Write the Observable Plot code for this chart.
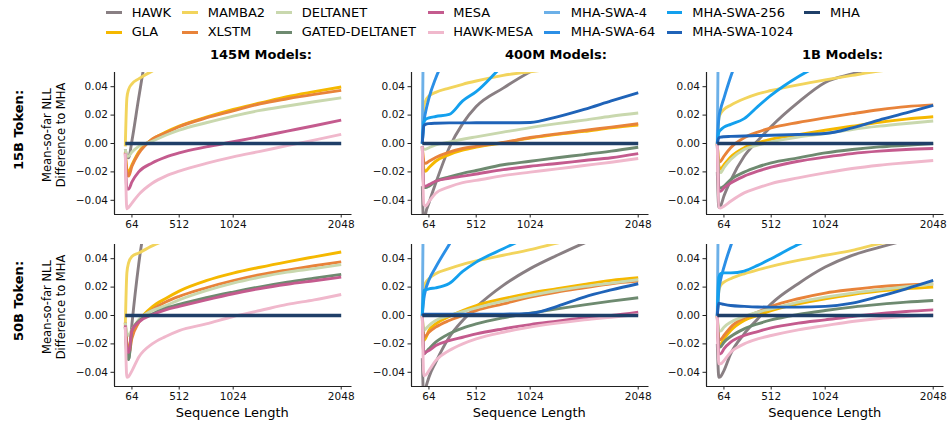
<!DOCTYPE html>
<html><head><meta charset="utf-8">
<script src="https://cdn.jsdelivr.net/npm/d3@7"></script>
<script src="https://cdn.jsdelivr.net/npm/@observablehq/plot@0.6"></script>
<style>
body{margin:0;background:#fff;}
#fig{position:relative;width:950px;height:425px;font-family:"DejaVu Sans",sans-serif;color:#000;overflow:hidden;background:#fff}
.abs{position:absolute;white-space:nowrap}
.plot{position:absolute}
</style></head><body><div id="fig"></div>
<script>
// ---------- data ----------
const xs = [1, 16, 32, 64, 128, 256, 384, 512, 768, 1024, 1280, 1536, 1792, 2048];
const xTicks = [64, 512, 1024, 2048];
const yTicks = [-0.04, -0.02, 0, 0.02, 0.04];

const seriesOrder = ["HAWK","GLA","MAMBA2","XLSTM","DELTANET","GATED-DELTANET","MESA","HAWK-MESA","MHA-SWA-4","MHA-SWA-64","MHA-SWA-256","MHA-SWA-1024","MHA"];
const seriesColors = ["#897f83","#f5b800","#f2d45c","#e8833a","#c9d8ae","#6e8a70","#c45b8e","#f0b8cc","#6cb0e8","#2b8fe6","#13a0ee","#1f63b8","#1f3f68"];

const columnTitles = ["145M Models:", "400M Models:", "1B Models:"];
const rowTitles = ["15B Token:", "50B Token:"];
const yLabelLines = ["Mean-so-far NLL", "Difference to MHA"];
const xLabel = "Sequence Length";

// 145M, 15B tokens
const m145_t15 = {
  "HAWK":          [-0.004,-0.009,-0.010, 0.002, 0.032, 0.085, 0.11, 0.13, 0.15, 0.17, 0.18, 0.19, 0.20, 0.21],
  "GLA":           [-0.007,-0.018,-0.020,-0.015,-0.006, 0.003, 0.008, 0.0122, 0.0185, 0.024, 0.0285, 0.033, 0.0365, 0.0398],
  "MAMBA2":        [-0.002, 0.032, 0.038, 0.042, 0.0455, 0.051, 0.055, 0.058, 0.062, 0.066, 0.069, 0.072, 0.074, 0.076],
  "XLSTM":         [-0.006,-0.020,-0.023,-0.016,-0.007, 0.003, 0.0075, 0.0118, 0.018, 0.023, 0.028, 0.0315, 0.0346, 0.0374],
  "DELTANET":      [-0.004,-0.009,-0.009,-0.006,-0.002, 0.0016, 0.0058, 0.0094, 0.0146, 0.0193, 0.0233, 0.0264, 0.0294, 0.0322],
  "MESA":          [-0.007,-0.032,-0.032,-0.027,-0.020,-0.0137,-0.0096,-0.0066,-0.0024, 0.0012, 0.0049, 0.0087, 0.0125, 0.0165],
  "HAWK-MESA":     [-0.007,-0.046,-0.045,-0.042,-0.036,-0.028,-0.023,-0.0195,-0.014,-0.0094,-0.0055,-0.0015, 0.0024, 0.0064],
  "MHA":           [0,0,0,0,0,0,0,0,0,0,0,0,0,0]
};
// 400M, 15B tokens
const m400_t15 = {
  "HAWK":          [-0.030,-0.060,-0.050,-0.042,-0.028,-0.003, 0.014, 0.026, 0.039, 0.0505, 0.060, 0.068, 0.075, 0.080],
  "GLA":           [-0.002,-0.018,-0.0195,-0.017,-0.0125,-0.0078,-0.0047,-0.0026, 0.0005, 0.0038, 0.0064, 0.0085, 0.011, 0.013],
  "MAMBA2":        [0, 0.026, 0.030, 0.0334, 0.036, 0.039, 0.0417, 0.044, 0.048, 0.0505, 0.053, 0.056, 0.058, 0.060],
  "XLSTM":         [-0.002,-0.013,-0.014,-0.0125,-0.0098,-0.006,-0.0035,-0.002, 0.0008, 0.0042, 0.0068, 0.0092, 0.0115, 0.0139],
  "DELTANET":      [-0.002,-0.004,-0.004,-0.003,-0.001, 0.001, 0.003, 0.0047, 0.008, 0.0112, 0.014, 0.0165, 0.0192, 0.0215],
  "GATED-DELTANET":[-0.002,-0.031,-0.031,-0.030,-0.0266,-0.0236,-0.021,-0.019,-0.015,-0.0125,-0.010,-0.0078,-0.0054,-0.0026],
  "MESA":          [-0.002,-0.030,-0.030,-0.029,-0.0266,-0.0245,-0.023,-0.0215,-0.0184,-0.016,-0.0141,-0.012,-0.010,-0.0071],
  "HAWK-MESA":     [-0.002,-0.043,-0.044,-0.041,-0.035,-0.0305,-0.0275,-0.026,-0.0226,-0.0202,-0.0179,-0.0155,-0.0132,-0.0106],
  "MHA-SWA-4":     [0, 0.12, 0.16, 0.20, 0.25, 0.30, 0.33, 0.35, 0.38, 0.40, 0.42, 0.43, 0.44, 0.45],
  "MHA-SWA-64":    [0, 0.015, 0.022, 0.032, 0.046, 0.065, 0.080, 0.090, 0.100, 0.110, 0.120, 0.125, 0.130, 0.135],
  "MHA-SWA-256":   [0, 0.015, 0.017, 0.018, 0.019, 0.0205, 0.030, 0.0365, 0.055, 0.070, 0.080, 0.090, 0.095, 0.100],
  "MHA-SWA-1024":  [0, 0.0125, 0.0135, 0.014, 0.0143, 0.0145, 0.0145, 0.0146, 0.0146, 0.0148, 0.0188, 0.024, 0.030, 0.0358],
  "MHA":           [0,0,0,0,0,0,0,0,0,0,0,0,0,0]
};
// 1B, 15B tokens
const m1b_t15 = {
  "HAWK":          [-0.020,-0.045,-0.044,-0.037,-0.026,-0.009, 0.002, 0.012, 0.029, 0.043, 0.049, 0.054, 0.058, 0.061],
  "GLA":           [0,-0.016,-0.018,-0.015,-0.0095,-0.003, 0.0005, 0.003, 0.0062, 0.0093, 0.0122, 0.015, 0.0172, 0.0188],
  "MAMBA2":        [0, 0.018, 0.021, 0.024, 0.027, 0.0315, 0.035, 0.0373, 0.0413, 0.0448, 0.048, 0.051, 0.053, 0.055],
  "XLSTM":         [0,-0.013,-0.0125,-0.009,-0.003, 0.004, 0.008, 0.011, 0.0148, 0.018, 0.021, 0.0238, 0.026, 0.0272],
  "DELTANET":      [0,-0.019,-0.0205,-0.017,-0.0113,-0.0042,-0.0012, 0.0012, 0.0045, 0.007, 0.0099, 0.0122, 0.0141, 0.0158],
  "GATED-DELTANET":[0,-0.031,-0.0313,-0.030,-0.0254,-0.0202,-0.0165,-0.0136,-0.0101,-0.0066,-0.0042,-0.0024,-0.0012, 0],
  "MESA":          [0,-0.033,-0.0336,-0.0313,-0.0278,-0.023,-0.0195,-0.0167,-0.0125,-0.0096,-0.0071,-0.0054,-0.0042,-0.0035],
  "HAWK-MESA":     [0,-0.045,-0.0455,-0.0442,-0.0407,-0.0348,-0.0313,-0.0282,-0.0242,-0.0207,-0.0176,-0.0153,-0.0136,-0.012],
  "MHA-SWA-4":     [0, 0.12, 0.16, 0.20, 0.25, 0.30, 0.33, 0.35, 0.38, 0.40, 0.42, 0.43, 0.44, 0.45],
  "MHA-SWA-64":    [0, 0.018, 0.024, 0.032, 0.047, 0.070, 0.085, 0.095, 0.105, 0.115, 0.120, 0.125, 0.130, 0.135],
  "MHA-SWA-256":   [0, 0.008, 0.0095, 0.0115, 0.0135, 0.0175, 0.026, 0.034, 0.047, 0.057, 0.065, 0.070, 0.075, 0.080],
  "MHA-SWA-1024":  [0, 0.004, 0.0045, 0.0048, 0.005, 0.0053, 0.0056, 0.0058, 0.0063, 0.007, 0.011, 0.0165, 0.0215, 0.0268],
  "MHA":           [0,0,0,0,0,0,0,0,0,0,0,0,0,0]
};
// 145M, 50B tokens
const m145_t50 = {
  "HAWK":          [-0.008,-0.025,-0.031,-0.006, 0.036, 0.090, 0.12, 0.14, 0.16, 0.18, 0.19, 0.20, 0.21, 0.22],
  "GLA":           [-0.005,-0.020,-0.024,-0.012,-0.004, 0.006, 0.012, 0.0172, 0.0245, 0.0298, 0.034, 0.0378, 0.0413, 0.0447],
  "MAMBA2":        [-0.008, 0.030, 0.037, 0.0415, 0.044, 0.049, 0.053, 0.056, 0.060, 0.063, 0.066, 0.068, 0.070, 0.072],
  "XLSTM":         [-0.005,-0.022,-0.028,-0.016,-0.005, 0.004, 0.0095, 0.0135, 0.0195, 0.0245, 0.0287, 0.032, 0.035, 0.0378],
  "DELTANET":      [-0.005,-0.012,-0.014,-0.010,-0.003, 0.0035, 0.007, 0.011, 0.0175, 0.0228, 0.027, 0.0305, 0.033, 0.0358],
  "GATED-DELTANET":[-0.008,-0.028,-0.031,-0.0106,-0.004, 0.001, 0.005, 0.0078, 0.0125, 0.0165, 0.0202, 0.0235, 0.0263, 0.029],
  "MESA":          [-0.007,-0.024,-0.026,-0.0106,-0.0047, 0.0005, 0.004, 0.0064, 0.011, 0.0153, 0.019, 0.022, 0.0245, 0.027],
  "HAWK-MESA":     [-0.008,-0.0435,-0.043,-0.039,-0.0294,-0.020,-0.0148,-0.0106,-0.0059,-0.0007, 0.0035, 0.0078, 0.011, 0.0148],
  "MHA":           [0,0,0,0,0,0,0,0,0,0,0,0,0,0]
};
// 400M, 50B tokens
const m400_t50 = {
  "HAWK":          [-0.030,-0.060,-0.052,-0.0435,-0.033,-0.0153,-0.0035, 0.0059, 0.0212, 0.033, 0.0424, 0.051, 0.058, 0.064],
  "GLA":           [0,-0.0176,-0.016,-0.0106,-0.0059,-0.0007, 0.0035, 0.007, 0.0118, 0.0158, 0.0188, 0.0219, 0.0247, 0.0266],
  "MAMBA2":        [0, 0.020, 0.023, 0.0259, 0.0294, 0.033, 0.036, 0.0384, 0.0424, 0.0464, 0.051, 0.055, 0.058, 0.060],
  "XLSTM":         [0,-0.015,-0.0145,-0.0118,-0.0082,-0.0035, 0, 0.0035, 0.0082, 0.0129, 0.0165, 0.0195, 0.0224, 0.0242],
  "DELTANET":      [0,-0.0106,-0.0095,-0.007,-0.0035, 0, 0.0028, 0.0054, 0.0101, 0.0141, 0.0176, 0.0205, 0.0228, 0.0252],
  "GATED-DELTANET":[0,-0.027,-0.026,-0.0235,-0.0188,-0.0129,-0.0089,-0.0059,-0.0016, 0.0016, 0.0047, 0.0075, 0.0101, 0.0125],
  "MESA":          [0,-0.027,-0.026,-0.0247,-0.0212,-0.0176,-0.0153,-0.0129,-0.0094,-0.0064,-0.004,-0.0016, 0, 0.0024],
  "HAWK-MESA":     [0,-0.0424,-0.042,-0.0388,-0.0318,-0.0247,-0.020,-0.0165,-0.0118,-0.0082,-0.0054,-0.0031,-0.0012, 0.0007],
  "MHA-SWA-4":     [0, 0.12, 0.16, 0.20, 0.25, 0.30, 0.33, 0.35, 0.38, 0.40, 0.42, 0.43, 0.44, 0.45],
  "MHA-SWA-64":    [0, 0.012, 0.018, 0.025, 0.034, 0.050, 0.065, 0.075, 0.090, 0.100, 0.110, 0.115, 0.120, 0.125],
  "MHA-SWA-256":   [0, 0.0175, 0.018, 0.0188, 0.0195, 0.0225, 0.031, 0.0376, 0.047, 0.056, 0.065, 0.070, 0.075, 0.080],
  "MHA-SWA-1024":  [0, 0.001, 0.001, 0.001, 0.001, 0.001, 0.001, 0.001, 0.001, 0.0015, 0.0065, 0.013, 0.018, 0.0224],
  "MHA":           [0,0,0,0,0,0,0,0,0,0,0,0,0,0]
};
// 1B, 50B tokens
const m1b_t50 = {
  "HAWK":          [-0.020,-0.0435,-0.043,-0.0388,-0.027,-0.0129,-0.0024, 0.0082, 0.0224, 0.0341, 0.0424, 0.048, 0.053, 0.057],
  "GLA":           [0,-0.020,-0.020,-0.0165,-0.0106,-0.0035, 0, 0.0035, 0.0082, 0.0118, 0.0148, 0.0172, 0.0188, 0.020],
  "MAMBA2":        [0, 0.0176, 0.021, 0.0235, 0.0259, 0.0294, 0.0322, 0.0346, 0.0388, 0.0424, 0.0459, 0.0505, 0.053, 0.055],
  "XLSTM":         [0,-0.0176,-0.017,-0.0141,-0.0082,-0.0016, 0.0024, 0.0064, 0.0118, 0.0158, 0.0183, 0.0203, 0.0215, 0.0222],
  "DELTANET":      [0,-0.0106,-0.011,-0.0082,-0.0047,-0.0007, 0.0024, 0.0047, 0.0094, 0.0129, 0.0158, 0.0181, 0.0203, 0.0222],
  "GATED-DELTANET":[0,-0.0224,-0.022,-0.0188,-0.0148,-0.0094,-0.0059,-0.0031, 0.0007, 0.0035, 0.0059, 0.0078, 0.0094, 0.0106],
  "MESA":          [0,-0.027,-0.027,-0.0235,-0.0188,-0.0141,-0.0113,-0.0087,-0.0054,-0.0031,-0.0007, 0.0012, 0.0028, 0.004],
  "HAWK-MESA":     [0,-0.034,-0.034,-0.0318,-0.0259,-0.020,-0.0165,-0.0141,-0.0101,-0.0071,-0.0042,-0.0021,-0.0007, 0.0005],
  "MHA-SWA-4":     [0, 0.12, 0.16, 0.20, 0.25, 0.30, 0.33, 0.35, 0.38, 0.40, 0.42, 0.43, 0.44, 0.45],
  "MHA-SWA-64":    [0, 0.018, 0.025, 0.034, 0.049, 0.070, 0.085, 0.095, 0.105, 0.115, 0.120, 0.125, 0.130, 0.135],
  "MHA-SWA-256":   [0, 0.027, 0.0295, 0.030, 0.030, 0.0313, 0.0353, 0.040, 0.050, 0.058, 0.065, 0.070, 0.075, 0.080],
  "MHA-SWA-1024":  [0, 0.0087, 0.0083, 0.0078, 0.007, 0.0064, 0.006, 0.0059, 0.0059, 0.0064, 0.0087, 0.0134, 0.0188, 0.0247],
  "MHA":           [0,0,0,0,0,0,0,0,0,0,0,0,0,0]
};

const panelGrid = [[m145_t15, m400_t15, m1b_t15], [m145_t50, m400_t50, m1b_t50]];

// ---------- layout ----------
const fig = document.getElementById("fig");
const colLeft = [113.5, 410.5, 706];
const rowTop = [71.5, 243.5];
const PW = 237.5, PH = 142;
const ML = 50, MR = 12, MT = 6, MB = 24;
const XDOM = [-101.35, 2150.35];
const YDOM = [-0.05, 0.05];
const fmtY = d => (d < 0 ? "\u2212" : "") + Math.abs(d).toFixed(2);

function addText(txt, css) {
  const d = document.createElement("div");
  d.className = "abs";
  d.textContent = txt;
  Object.assign(d.style, css);
  fig.appendChild(d);
  return d;
}

function makePanel(data) {
  const marks = [];
  seriesOrder.forEach((name, i) => {
    const vals = data[name];
    if (!vals) return;
    const rows = vals.map((v, j) => ({x: xs[j], y: v}));
    marks.push(Plot.lineY(rows, {
      x: "x", y: "y", stroke: seriesColors[i],
      strokeWidth: name === "MHA" ? 3.4 : 2.9,
      curve: "monotone-x", clip: true,
      strokeLinecap: "butt", strokeLinejoin: "round"
    }));
  });
  marks.push(Plot.ruleX([XDOM[0]], {stroke: "#222", strokeWidth: 1.2}));
  marks.push(Plot.ruleY([YDOM[0]], {stroke: "#222", strokeWidth: 1.2}));
  marks.push(Plot.axisX({ticks: xTicks, tickFormat: d => String(d), tickSize: 3.5, tickPadding: 2.5, label: null, stroke: "#222", fill: "#111"}));
  marks.push(Plot.axisY({ticks: yTicks, tickFormat: fmtY, tickSize: 3.5, tickPadding: 3, label: null, stroke: "#222", fill: "#111"}));
  return Plot.plot({
    width: ML + PW + MR, height: MT + PH + MB,
    marginLeft: ML, marginRight: MR, marginTop: MT, marginBottom: MB,
    style: {fontFamily: "DejaVu Sans", fontSize: "10.5px", background: "transparent", overflow: "visible"},
    x: {domain: XDOM},
    y: {domain: YDOM},
    marks
  });
}

panelGrid.forEach((row, r) => {
  row.forEach((data, c) => {
    const svg = makePanel(data);
    svg.classList.add("plot");
    svg.style.left = (colLeft[c] - ML) + "px";
    svg.style.top = (rowTop[r] - MT) + "px";
    fig.appendChild(svg);
  });
});

// column titles
const titleLeft = [210, 505, 802];
columnTitles.forEach((t, c) => addText(t, {left: titleLeft[c] + "px", top: "47px", fontSize: "13px", fontWeight: "bold", lineHeight: "16px"}));

// row titles + y labels
const rowTitleCY = [130, 301];
const yLabelCY = [135, 307];
rowTitles.forEach((t, r) => {
  addText(t, {left: "18.5px", top: rowTitleCY[r] + "px", fontSize: "13px", fontWeight: "bold", lineHeight: "16px",
    transform: "translate(-50%,-50%) rotate(-90deg)"});
  const d = addText("", {left: "54px", top: yLabelCY[r] + "px", fontSize: "11.5px", lineHeight: "14.3px", textAlign: "center",
    transform: "translate(-50%,-50%) rotate(-90deg)"});
  d.innerHTML = "";
  yLabelLines.forEach(l => { const s = document.createElement("div"); s.textContent = l; d.appendChild(s); });
});

// x labels
colLeft.forEach(l => addText(xLabel, {left: (l + PW / 2) + "px", top: "405px", fontSize: "13px", lineHeight: "16px", transform: "translateX(-50%)"}));

// legend
const legendOrder = seriesOrder;
const legHandleX = [106, 182.3, 276, 428.3, 544, 666.7, 804.3];
const legTextX = [131.7, 207.7, 301.7, 453.3, 570.7, 692.3, 830];
const legRowY = [12.7, 32.3];
legendOrder.forEach((name, k) => {
  const c = Math.floor(k / 2), r = k % 2;
  const h = document.createElement("div");
  h.className = "abs";
  Object.assign(h.style, {left: legHandleX[c] + "px", top: (legRowY[r] - 1.5) + "px", width: "15.5px", height: "3px", background: seriesColors[seriesOrder.indexOf(name)]});
  fig.appendChild(h);
  addText(name, {left: legTextX[c] + "px", top: (legRowY[r] - 8) + "px", fontSize: "13px", lineHeight: "16px"});
});
</script></body></html>
